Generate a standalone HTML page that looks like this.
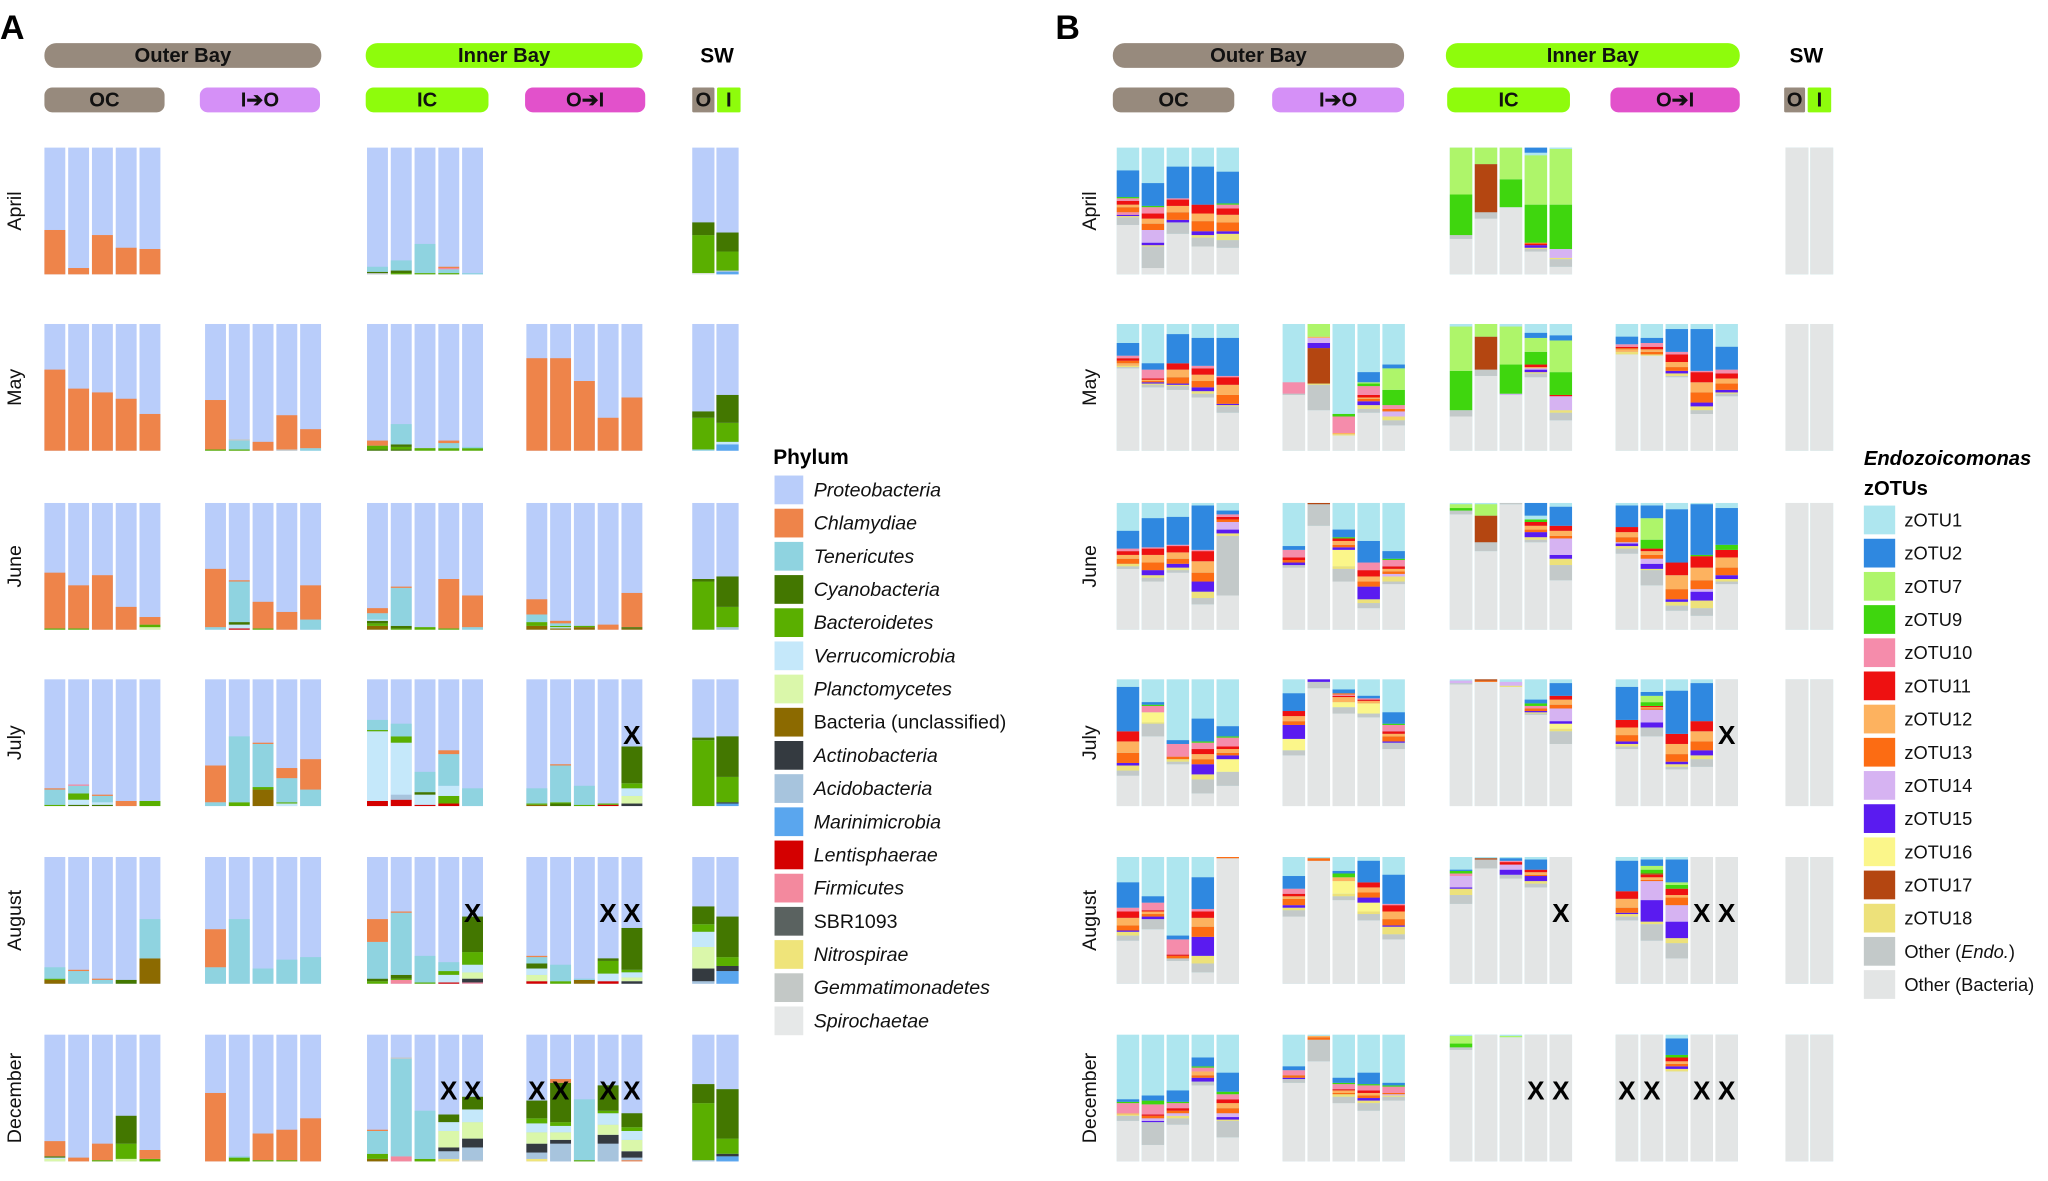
<!DOCTYPE html>
<html><head><meta charset="utf-8"><style>
html,body{margin:0;padding:0;background:#fff;}
svg{display:block;}
text{font-family:"Liberation Sans",sans-serif;}
</style></head><body>
<svg id="fig" xmlns="http://www.w3.org/2000/svg" width="2048" height="1181" viewBox="0 0 1568 904" preserveAspectRatio="none">
<rect x="0" y="0" width="1568" height="904" fill="#fff"/>
<g id="hdr"></g><g id="bars"></g><g id="leg"></g>
</svg>
<script>
const months = ["April","May","June","July","August","December"];
const groupNames = ["OC","I-O","IC","O-I","SW"];
const namesA = ["Proteobacteria","Chlamydiae","Tenericutes","Cyanobacteria","Bacteroidetes","Verrucomicrobia","Planctomycetes","Bacteria (unclassified)","Actinobacteria","Acidobacteria","Marinimicrobia","Lentisphaerae","Firmicutes","SBR1093","Nitrospirae","Gemmatimonadetes","Spirochaetae"];
const colorsA = ["#b9cdfa","#ee844a","#8fd3e0","#437700","#5aaf00","#c5e8fa","#daf7aa","#8c6a00","#343a40","#a7c4dd","#5aa6ee","#d40000","#f3899e","#5a6260","#efe47a","#c3c8c6","#e6e8e8"];
const namesB = ["zOTU1","zOTU2","zOTU7","zOTU9","zOTU10","zOTU11","zOTU12","zOTU13","zOTU14","zOTU15","zOTU16","zOTU17","zOTU18","Other (Endo.)","Other (Bacteria)"];
const colorsB = ["#aee6ef","#2f88e0","#aef56a","#3fd60e","#f58cab","#ee1111","#fdb25f","#fc6c13","#d6b3f2","#5a1bf0","#fbf68a","#b44611","#ede17a","#c3c9c9","#e3e5e5"];

// Panel A: segments bottom-up "phylumIndex:fraction"; remainder = Proteobacteria
const aApril = [["1:.35","1:.05","1:.31","1:.21","1:.2"],null,
 ["15:.01 3:.01 2:.04","4:.01 3:.02 2:.08","4:.01 2:.23","4:.01 2:.03 12:.01 1:.01","2:.01"],null,
 ["16:.01 4:.3 3:.1","10:.02 9:.01 4:.15 3:.15"]];
const aMay = [["1:.64","1:.49","1:.46","1:.41","1:.29"],
 ["4:.01 1:.39","4:.01 2:.07 15:.01","1:.07","15:.01 1:.27","2:.02 1:.15"],
 ["3:.01 4:.03 1:.04","3:.01 4:.02 3:.02 2:.16","4:.02","4:.02 2:.04 1:.02","4:.02 2:.01"],
 ["1:.73","1:.73","1:.55","1:.26","1:.42"],
 ["2:.01 4:.25 3:.05","10:.05 5:.02 4:.15 3:.22"]];
const aJune = [["4:.01 1:.44","4:.01 1:.34","1:.43","1:.18","6:.02 4:.02 1:.06"],
 ["2:.02 1:.46","11:.01 5:.03 3:.02 2:.32 1:.01","4:.01 1:.21","1:.14","2:.08 1:.27"],
 ["7:.03 4:.02 3:.02 5:.01 2:.05 1:.04","4:.01 3:.02 2:.3 1:.01","4:.02","4:.01 1:.39","2:.02 1:.25"],
 ["7:.03 4:.03 2:.06 1:.12","7:.01 5:.01 4:.01 2:.02 1:.02","7:.02 4:.01","1:.04","7:.01 3:.01 1:.27"],
 ["4:.38 3:.02","9:.02 4:.16 3:.24"]];
const aJuly = [["4:.01 2:.12 1:.01","3:.01 5:.04 4:.05 2:.06 12:.01","3:.01 5:.02 2:.05 1:.01","1:.04","4:.04"],
 ["2:.03 1:.29","4:.03 2:.52","7:.13 4:.02 2:.34 1:.01","5:.02 4:.01 2:.19 1:.08","2:.13 1:.24"],
 ["11:.04 5:.55 4:.01 2:.08","11:.05 9:.04 5:.41 4:.05 2:.1","11:.01 5:.08 3:.02 2:.16","11:.02 4:.06 5:.08 2:.25 1:.03","2:.14"],
 ["7:.01 4:.01 2:.12","3:.02 4:.01 2:.29 1:.01","4:.01 2:.15","11:.01 4:.01","8:.02 6:.06 5:.06 4:.04 3:.29"],
 ["4:.52 3:.02","10:.02 8:.01 4:.2 3:.32"]];
const aAugust = [["7:.03 4:.01 2:.09","2:.1 1:.01","2:.03 1:.01","3:.03","7:.2 2:.31"],
 ["2:.13 1:.3","2:.51","2:.12","2:.19","2:.21"],
 ["4:.02 3:.02 2:.29 1:.18","12:.03 4:.01 3:.03 2:.49 1:.01","4:.01 2:.21","11:.01 5:.06 4:.03 2:.07","12:.01 8:.03 6:.05 5:.06 4:.1 3:.28"],
 ["11:.02 6:.05 5:.05 3:.04 2:.05 1:.01","4:.02 2:.13","7:.03 2:.01","11:.02 5:.06 4:.1 3:.02","8:.02 6:.03 5:.04 4:.02 3:.33"],
 ["9:.02 8:.1 6:.17 5:.12 4:.06 3:.14","10:.1 8:.04 4:.07 3:.32"]];
const aDecember = [["6:.02 5:.01 3:.01 1:.12","1:.03","4:.01 1:.13","6:.02 4:.12 3:.22","4:.02 1:.07"],
 ["1:.54","4:.03 2:.01","4:.01 1:.21","4:.01 1:.24","1:.34"],
 ["7:.02 4:.04 2:.18 1:.01","12:.04 2:.77 15:.01","4:.02 2:.38","14:.02 9:.06 8:.03 6:.13 5:.07 3:.06","15:.01 9:.1 8:.07 6:.13 5:.1 3:.1"],
 ["14:.02 9:.05 8:.07 6:.09 5:.07 4:.04 3:.14","9:.14 8:.03 6:.06 5:.05 4:.03 3:.31 1:.03","4:.01 2:.48","9:.14 8:.07 6:.08 5:.09 4:.02 3:.2","1:.01 9:.02 8:.05 6:.09 5:.07 4:.03 3:.11"],
 ["9:.01 4:.45 3:.15","10:.04 8:.02 4:.12 3:.39"]];
const dataA = [aApril,aMay,aJune,aJuly,aAugust,aDecember];

// Panel B: segments bottom-up "otuIndex:fraction"; remainder = zOTU1
const G = "14:1";
const bApril = [["14:.39 13:.06 12:.01 9:.01 4:.02 7:.04 6:.02 5:.03 4:.02 3:.01 1:.21","14:.05 13:.17 12:.01 9:.02 8:.1 7:.05 6:.04 5:.04 4:.05 3:.01 1:.18","14:.32 13:.09 9:.02 7:.06 6:.05 5:.05 4:.01 1:.25","14:.22 13:.07 12:.02 9:.03 7:.08 6:.06 5:.07 1:.3","14:.21 13:.06 12:.05 9:.02 7:.07 6:.06 5:.05 4:.03 3:.01 1:.25"],null,
 ["14:.28 13:.03 3:.32 2:.37","14:.44 13:.05 11:.38 2:.13","14:.53 3:.22 2:.25","14:.18 13:.02 12:.01 9:.02 5:.01 7:.01 3:.3 2:.39 0:.02 1:.04","14:.06 13:.06 12:.01 8:.07 3:.35 2:.44 0:.01"],null,[G,G]];
const bMay = [["14:.65 13:.01 12:.01 6:.02 7:.02 5:.02 4:.02 1:.1","14:.5 13:.02 12:.01 9:.01 7:.01 6:.01 5:.01 4:.07 1:.05","14:.48 13:.03 12:.01 9:.01 7:.05 6:.06 5:.05 1:.23","14:.42 13:.03 12:.02 9:.03 7:.05 6:.05 5:.05 4:.02 1:.22","14:.3 13:.05 12:.01 9:.01 7:.07 6:.08 5:.06 4:.01 1:.3"],
 ["14:.44 13:.01 4:.09","14:.32 13:.2 12:.01 11:.28 9:.04 8:.04 6:.01 2:.1","14:.12 12:.01 6:.01 4:.13 3:.02","14:.3 13:.03 12:.03 9:.03 7:.02 6:.01 5:.02 4:.07 3:.02 2:.01 1:.08","14:.2 13:.04 12:.03 8:.04 7:.02 4:.03 3:.12 2:.17 1:.03"],
 ["14:.27 13:.05 3:.31 2:.35 0:.02","14:.59 13:.05 11:.26 2:.1","14:.44 8:.01 3:.23 2:.3 0:.02","14:.58 13:.03 12:.01 9:.02 8:.01 6:.01 5:.02 3:.1 2:.11 1:.04","14:.24 13:.06 12:.02 8:.11 5:.01 3:.18 2:.25 1:.04"],
 ["14:.76 12:.02 6:.02 7:.01 5:.01 4:.02 1:.06","14:.75 12:.01 7:.02 6:.02 5:.02 4:.03 1:.04","14:.58 13:.01 12:.02 9:.02 7:.03 6:.04 5:.06 4:.02 1:.18","14:.29 13:.03 12:.03 9:.03 7:.08 6:.08 5:.08 4:.01 1:.33","14:.43 13:.02 12:.01 9:.02 7:.05 6:.04 5:.04 4:.03 1:.18"],[G,G]];
const bJune = [["14:.48 13:.02 12:.02 7:.04 6:.03 5:.03 4:.02 1:.14","14:.38 13:.03 12:.02 9:.04 7:.06 6:.06 5:.05 4:.01 1:.23","14:.45 13:.02 12:.02 9:.03 7:.04 6:.05 5:.05 4:.01 1:.22","14:.2 13:.05 12:.05 9:.08 7:.07 6:.09 5:.08 4:.01 1:.35","14:.27 13:.47 12:.02 9:.03 8:.06 7:.02 5:.02 4:.02 1:.03"],
 ["14:.49 13:.02 9:.02 7:.02 5:.02 4:.06 1:.03","14:.82 13:.17 11:.01","14:.38 13:.1 12:.02 10:.13 9:.02 7:.02 6:.03 5:.02 3:.01 1:.06","14:.17 13:.04 12:.03 9:.1 7:.04 6:.04 5:.05 4:.06 1:.17","14:.36 13:.02 12:.04 8:.02 7:.02 6:.02 5:.02 4:.05 3:.01 1:.06"],
 ["14:.91 13:.03 3:.02 2:.03","14:.62 13:.07 11:.21 2:.09","14:.99 13:.01","14:.69 13:.02 12:.02 9:.04 7:.02 6:.03 5:.03 3:.02 0:.03 1:.1","14:.39 13:.12 12:.05 9:.03 8:.13 7:.02 6:.04 5:.04 1:.15"],
 ["14:.6 13:.04 12:.02 9:.02 8:.01 7:.04 6:.04 5:.04 1:.17","14:.35 13:.12 12:.01 9:.04 8:.04 7:.03 6:.03 5:.02 3:.07 2:.17 1:.1","14:.15 13:.04 12:.03 9:.02 7:.08 6:.11 5:.1 1:.42","14:.11 13:.06 12:.06 9:.07 8:.02 7:.07 6:.1 5:.09 3:.01 1:.4","14:.36 13:.02 12:.02 9:.03 7:.06 6:.08 5:.06 3:.04 1:.29"],[G,G]];
const bJuly = [["14:.24 13:.04 12:.04 9:.02 7:.08 6:.09 5:.08 1:.35","14:.55 13:.1 12:.01 10:.08 4:.05 3:.01 1:.02","14:.33 13:.02 12:.02 7:.02 4:.1 1:.03","14:.1 13:.11 12:.04 9:.08 7:.04 6:.04 5:.04 4:.05 3:.01 1:.18","14:.16 13:.11 10:.1 9:.03 7:.02 6:.03 5:.02 4:.07 3:.01 1:.08"],
 ["14:.4 13:.04 10:.09 9:.11 7:.03 6:.04 5:.04 1:.14","14:.93 13:.05 9:.02","14:.73 13:.05 10:.04 6:.04 5:.01 4:.01 7:.01 1:.03","14:.7 13:.03 10:.08 6:.02 5:.01 4:.01 1:.02","14:.45 13:.05 9:.01 7:.04 6:.02 5:.02 4:.05 3:.01 1:.09"],
 ["14:.96 13:.01 8:.02","14:.98 7:.01 11:.01","14:.94 12:.01 8:.03","14:.72 13:.01 12:.01 9:.01 7:.02 4:.02 3:.02 1:.03","14:.49 13:.1 12:.02 10:.04 9:.02 8:.1 7:.03 6:.04 5:.03 1:.1"],
 ["14:.45 13:.02 12:.02 9:.02 7:.05 6:.06 5:.06 1:.26","14:.55 13:.07 9:.04 8:.1 7:.01 6:.01 5:.01 3:.03 2:.05 1:.03","14:.29 13:.02 12:.02 9:.02 7:.06 6:.08 5:.08 1:.34","14:.31 13:.06 12:.03 9:.04 7:.07 6:.08 5:.08 1:.3",G],[G,G]];
const bAugust = [["14:.34 13:.04 12:.03 9:.01 7:.04 6:.06 5:.05 4:.03 1:.2","14:.43 13:.08 9:.02 7:.02 6:.02 5:.01 4:.06 1:.05","14:.18 13:.02 7:.02 5:.01 4:.12 1:.03","14:.09 13:.07 12:.06 9:.15 7:.08 6:.07 5:.05 4:.02 1:.25","14:.99 7:.01"],
 ["14:.53 13:.05 12:.02 9:.02 7:.05 6:.02 5:.02 4:.04 1:.1","14:.97 7:.02","14:.66 13:.03 12:.02 10:.1 6:.03 3:.03 1:.02","14:.5 13:.05 12:.02 10:.07 9:.04 7:.04 6:.04 5:.04 1:.17","14:.35 13:.04 12:.06 9:.01 7:.05 6:.06 5:.05 4:.01 1:.23"],
 ["14:.63 13:.07 12:.05 9:.01 8:.09 4:.02 3:.02 1:.01","14:.91 13:.07 11:.01","14:.83 13:.03 9:.04 8:.04 5:.02 4:.01 1:.02","14:.76 13:.03 12:.02 9:.04 7:.01 6:.02 5:.02 1:.08",G],
 ["14:.5 13:.03 12:.02 9:.01 7:.04 6:.07 5:.06 1:.24","14:.34 13:.13 12:.02 9:.17 8:.15 7:.01 6:.02 5:.02 11:.01 3:.03 2:.03 1:.05","14:.2 13:.12 12:.04 9:.13 8:.13 7:.06 6:.02 5:.05 3:.03 2:.02 1:.18",G,G],[G,G]];
const bDecember = [["14:.32 13:.04 12:.01 6:.01 4:.08 3:.01 1:.02","14:.13 13:.18 9:.01 8:.02 7:.02 5:.01 4:.08 3:.03 1:.04","14:.29 13:.05 12:.02 8:.02 7:.02 5:.02 4:.04 3:.01 1:.09","14:.6 13:.03 9:.03 7:.02 6:.03 4:.03 3:.01 1:.07","14:.19 13:.13 12:.01 9:.02 8:.03 7:.04 6:.04 5:.03 4:.04 3:.02 1:.15"],
 ["14:.62 13:.03 9:.01 7:.02 4:.04 1:.03","14:.79 13:.17 7:.02 6:.01","14:.46 13:.05 12:.02 7:.01 6:.02 5:.01 4:.04 3:.01 1:.04","14:.4 13:.06 12:.02 9:.02 7:.02 6:.02 5:.02 4:.04 3:.01 1:.09","14:.48 13:.03 12:.01 8:.01 7:.01 4:.05 3:.01 1:.02"],
 ["14:.88 13:.02 3:.03 2:.06",G,"14:.98 2:.01",G,G],
 [G,G,"14:.71 12:.02 9:.02 7:.02 6:.02 5:.03 3:.02 1:.13",G,G],[G,G]];
const dataB = [bApril,bMay,bJune,bJuly,bAugust,bDecember];

// missing samples marked X: [monthIndex, groupIndex, barIndex]
const missing = [[3,3,4],[4,2,4],[4,3,3],[4,3,4],[5,2,3],[5,2,4],[5,3,0],[5,3,1],[5,3,3],[5,3,4]];

const NS="http://www.w3.org/2000/svg";
function mk(tag, attrs, parent){const e=document.createElementNS(NS,tag);for(const k in attrs)e.setAttribute(k,attrs[k]);parent.appendChild(e);return e;}
const rowTop=[113,248,385,520,656,792], rowH=97;
const layA={gx:[34,157,281,403,530],pitch:18.2,w:16,swPitch:18.5,swW:17};
const layB={gx:[855,982,1110,1237,1367],pitch:19.1,w:17.2,swPitch:19,swW:17.5};
function yScale(m,v){return rowTop[m]+rowH*(1-v);}
function hScale(v){return rowH*v;}
const barsG=document.getElementById('bars');
function parse(s){return s.split(' ').map(t=>{const p=t.split(':');return [+p[0],+p[1]];});}
function drawPanel(data,colors,lay,topIdx,panel){
 data.forEach((mon,m)=>{
  mon.forEach((grp,g)=>{
   if(!grp)return;
   grp.forEach((s,b)=>{
    const sw=g===4;
    const x=lay.gx[g]+b*(sw?lay.swPitch:lay.pitch), w=sw?lay.swW:lay.w;
    const bg=mk('g',{},barsG);
    
    
    mk('rect',{x:x,y:yScale(m,1),width:w,height:hScale(1),fill:colors[topIdx]},bg);
    let cum=0;
    parse(s).forEach(([ci,v])=>{
      const r=mk('rect',{x:x,y:yScale(m,cum+v),width:w,height:hScale(v),fill:colors[ci]},bg);
      
      
      cum+=v;
    });
    const isX=missing.some(q=>q[0]===m&&q[1]===g&&q[2]===b);
    if(isX){
      const cy = yScale(m,0.56);
      const t=mk('text',{x:x+w/2,y:cy+7,'text-anchor':'middle','font-size':20,'font-weight':'bold',fill:'#000'},barsG);
      t.textContent='X';
      
      
    }
   });
  });
  const lx = panel==='a'?16:839;
  const t=mk('text',{x:lx,y:rowTop[m]+rowH/2,'text-anchor':'middle','font-size':15,fill:'#111',transform:`rotate(-90 ${lx} ${rowTop[m]+rowH/2})`},barsG);
  t.textContent=months[m];
  
  
 });
}
drawPanel(dataA,colorsA,layA,0,'a');
drawPanel(dataB,colorsB,layB,0,'b');

// headers
const hdr=document.getElementById('hdr');
function pill(x1,x2,y,h,col,label,name,rad){
 const g=mk('g',{},hdr);
 
 
 mk('rect',{x:x1,y:y,width:x2-x1,height:h,rx:rad,ry:rad,fill:col},g);
 if(label){const t=mk('text',{x:(x1+x2)/2,y:y+h-4.5,'text-anchor':'middle','font-size':15.5,'font-weight':'bold',fill:'#111'},g);t.textContent=label;}
}
function txt(x,y,s,attrs,name){const t=mk('text',Object.assign({x:x,y:y},attrs),hdr);t.textContent=s;return t;}
const BR="#978a7d",GR="#8efc0c",PU="#d590f7",MG="#e251cb";
txt(0,30,'A',{'font-size':26,'font-weight':'bold'},'panel-a-label');
txt(808,30,'B',{'font-size':26,'font-weight':'bold'},'panel-b-label');
pill(34,246,33,19,BR,'Outer Bay','a-outer-bay-header',9);
pill(280,492,33,19,GR,'Inner Bay','a-inner-bay-header',9);
txt(549,48,'SW',{'font-size':16,'font-weight':'bold','text-anchor':'middle'},'a-sw-header');
pill(34,126,67,19,BR,'OC','a-oc-header',6);
pill(153,245,67,19,PU,'I➔O','a-i-to-o-header',6);
pill(280,374,67,19,GR,'IC','a-ic-header',6);
pill(402,494,67,19,MG,'O➔I','a-o-to-i-header',6);
pill(530,547,67,19,BR,'O','a-sw-o-header',1);
pill(549,567,67,19,GR,'I','a-sw-i-header',1);
pill(852,1075,33,19,BR,'Outer Bay','b-outer-bay-header',9);
pill(1107,1332,33,19,GR,'Inner Bay','b-inner-bay-header',9);
txt(1383,48,'SW',{'font-size':16,'font-weight':'bold','text-anchor':'middle'},'b-sw-header');
pill(852,945,67,19,BR,'OC','b-oc-header',6);
pill(974,1075,67,19,PU,'I➔O','b-i-to-o-header',6);
pill(1108,1202,67,19,GR,'IC','b-ic-header',6);
pill(1233,1332,67,19,MG,'O➔I','b-o-to-i-header',6);
pill(1366,1382,67,19,BR,'O','b-sw-o-header',1);
pill(1384,1402,67,19,GR,'I','b-sw-i-header',1);

// legends
const leg=document.getElementById('leg');
function legTitle(x,y,s,attrs,name){const t=mk('text',Object.assign({x:x,y:y,'font-size':16,'font-weight':'bold'},attrs),leg);t.textContent=s;}
legTitle(592,355,'Phylum',{},'legend-a-title');
namesA.forEach((n,i)=>{
 const g=mk('g',{},leg);
 
 
 const y=364+i*25.4;
 mk('rect',{x:593,y:y,width:22,height:22,fill:colorsA[i]},g);
 const it=!(n==='Bacteria (unclassified)'||n==='SBR1093');
 const t=mk('text',{x:623,y:y+16,'font-size':15,'font-style':it?'italic':'normal',fill:'#111'},g);t.textContent=n;
});
legTitle(1427,356,'Endozoicomonas',{'font-style':'italic','font-size':15.5},'legend-b-title');
legTitle(1427,379,'zOTUs',{'font-size':15.5},'legend-b-subtitle');
namesB.forEach((n,i)=>{
 const g=mk('g',{},leg);
 
 
 const y=387+i*25.4;
 mk('rect',{x:1427,y:y,width:24,height:22,fill:colorsB[i]},g);
 const t=mk('text',{x:1458,y:y+16,'font-size':14,fill:'#111'},g);
 if(n==='Other (Endo.)'){t.innerHTML='Other (<tspan font-style="italic">Endo.</tspan>)';}else t.textContent=n;
});
</script>
</body></html>
